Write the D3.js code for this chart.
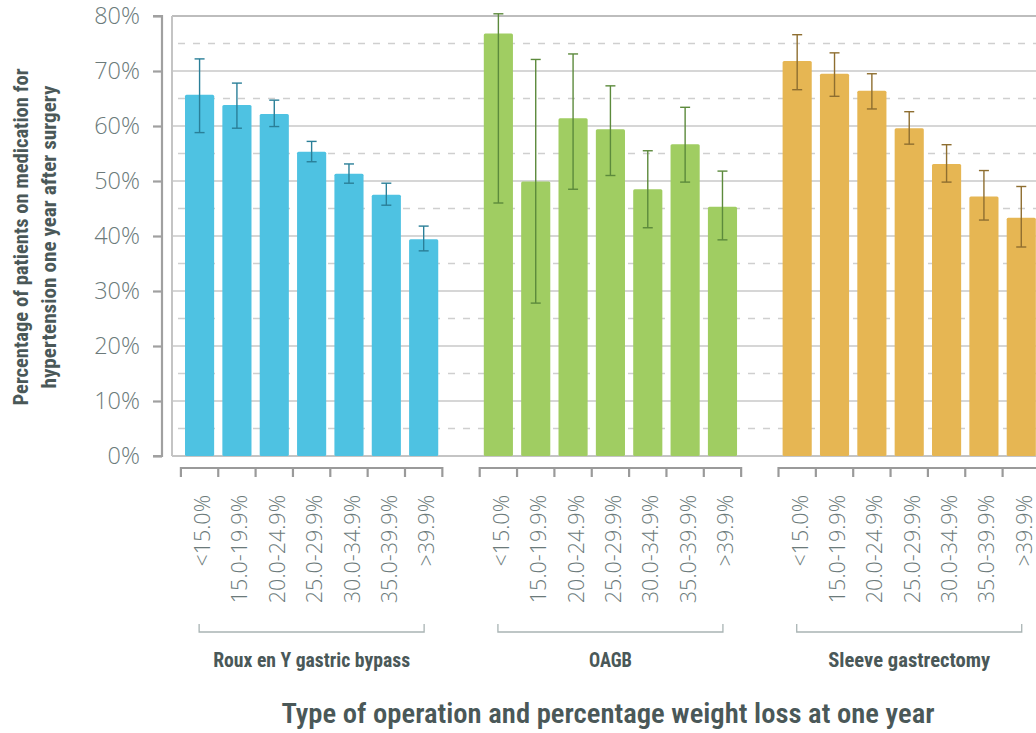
<!DOCTYPE html>
<html><head><meta charset="utf-8">
<script src="https://cdn.jsdelivr.net/npm/d3@7"></script>
<style>
html,body{margin:0;padding:0;background:#fff;}
svg{display:block;}
</style></head>
<body><svg id="chart" width="1036" height="733"></svg>
<script>
const groups = ["Roux en Y gastric bypass", "OAGB", "Sleeve gastrectomy"];
const categories = ["<15.0%", "15.0-19.9%", "20.0-24.9%", "25.0-29.9%", "30.0-34.9%", "35.0-39.9%", ">39.9%"];
const rouxValues = [65.7, 63.8, 62.2, 55.3, 51.3, 47.5, 39.4];
const rouxLow    = [58.8, 59.6, 59.9, 53.5, 49.6, 45.6, 37.3];
const rouxHigh   = [72.2, 67.8, 64.7, 57.2, 53.1, 49.6, 41.8];
const oagbValues = [76.8, 49.9, 61.4, 59.4, 48.5, 56.7, 45.3];
const oagbLow    = [46.0, 27.8, 48.5, 51.0, 41.5, 49.8, 39.3];
const oagbHigh   = [80.4, 72.1, 73.1, 67.3, 55.5, 63.4, 51.8];
const sleeveValues = [71.8, 69.5, 66.4, 59.6, 53.1, 47.2, 43.3];
const sleeveLow    = [66.6, 65.4, 63.1, 56.7, 49.8, 42.9, 38.0];
const sleeveHigh   = [76.6, 73.3, 69.5, 62.6, 56.6, 51.9, 49.0];
const yTicks = [0, 10, 20, 30, 40, 50, 60, 70, 80];
const yTitleLines = ["Percentage of patients on medication for", "hypertension one year after surgery"];
const xTitle = "Type of operation and percentage weight loss at one year";
const barColors = ["#4ec2e2", "#a0cd62", "#e6b653"];
const errColors = ["#2a7f98", "#5c8a3c", "#8e6e30"];

const series = [
  {values: rouxValues, low: rouxLow, high: rouxHigh},
  {values: oagbValues, low: oagbLow, high: oagbHigh},
  {values: sleeveValues, low: sleeveLow, high: sleeveHigh}
];

// slot keys: 7 categories per group with a spacer slot between groups
const slots = [];
groups.forEach((g, gi) => {
  categories.forEach(c => slots.push(gi + "|" + c));
  if (gi < groups.length - 1) slots.push("gap" + gi);
});

const svg = d3.select("#chart");
const step = 37.35;
const x0 = 180.9;
const x = d3.scaleBand().domain(slots).range([x0, x0 + step * slots.length])
  .paddingInner(0.22).paddingOuter(0.11);
const y = d3.scaleLinear().domain([0, 80]).range([456, 16]);

const plotLeft = 172, plotRight = 1040;
const condensed = "'Roboto Condensed', 'Liberation Sans Narrow', 'DejaVu Sans Condensed', 'Open Sans', sans-serif";

// gridlines (dashed at 5s, solid at 10s)
const minor = d3.range(5, 80, 10);
svg.append("g").selectAll("line").data(minor).join("line")
  .attr("x1", plotLeft + 6).attr("x2", plotRight)
  .attr("y1", d => y(d)).attr("y2", d => y(d))
  .attr("stroke", "#cfcfcf").attr("stroke-width", 1.3).attr("stroke-dasharray", "7,8");
svg.append("g").selectAll("line").data(yTicks.filter(d => d > 0 && d < 80)).join("line")
  .attr("x1", plotLeft).attr("x2", plotRight)
  .attr("y1", d => y(d)).attr("y2", d => y(d))
  .attr("stroke", "#c8c8c8").attr("stroke-width", 1.3);
// frame
svg.append("line").attr("x1", plotLeft).attr("x2", plotRight).attr("y1", y(80)).attr("y2", y(80))
  .attr("stroke", "#bdbdbd").attr("stroke-width", 2.2);
svg.append("line").attr("x1", plotLeft).attr("x2", plotRight).attr("y1", y(0)).attr("y2", y(0))
  .attr("stroke", "#c4c4c4").attr("stroke-width", 2);
svg.append("line").attr("x1", plotLeft).attr("x2", plotLeft).attr("y1", y(80)).attr("y2", y(0))
  .attr("stroke", "#c4c4c4").attr("stroke-width", 2);

// bars and error bars
series.forEach((s, gi) => {
  const data = categories.map((c, i) => ({key: gi + "|" + c, v: s.values[i], lo: s.low[i], hi: s.high[i]}));
  const g = svg.append("g");
  g.selectAll("rect").data(data).join("rect")
    .attr("x", d => x(d.key)).attr("width", x.bandwidth())
    .attr("y", d => y(d.v)).attr("height", d => y(0) - y(d.v))
    .attr("fill", barColors[gi]).attr("rx", 1.5);
  const e = g.selectAll("g.err").data(data).join("g").attr("class", "err")
    .attr("stroke", errColors[gi]).attr("stroke-width", 1.4);
  const cx = d => x(d.key) + x.bandwidth() / 2;
  e.append("line").attr("x1", cx).attr("x2", cx).attr("y1", d => y(d.hi)).attr("y2", d => y(d.lo));
  e.append("line").attr("x1", d => cx(d) - 5).attr("x2", d => cx(d) + 5).attr("y1", d => y(d.hi)).attr("y2", d => y(d.hi));
  e.append("line").attr("x1", d => cx(d) - 5).attr("x2", d => cx(d) + 5).attr("y1", d => y(d.lo)).attr("y2", d => y(d.lo));
});

// y axis
const yAxis = d3.axisLeft(y).tickValues(yTicks).tickFormat(d => d + "%").tickSize(9).tickPadding(13);
const ya = svg.append("g").attr("transform", "translate(162,0)").call(yAxis);
ya.select(".domain").attr("stroke", "#a0a0a0").attr("stroke-width", 2.2).attr("d", "M-9,16H0V456H-9");
ya.selectAll(".tick line").attr("stroke", "#a0a0a0").attr("stroke-width", 2.2);
ya.selectAll(".tick text").attr("fill", "#6b7a7a").style("font-family", "'Open Sans', sans-serif")
  .style("font-weight", 300).style("font-size", "23.5px");

// x axis per group with ticks at slot boundaries
const groupLabelLen = [197, 43, 162];
groups.forEach((gname, gi) => {
  const keys = categories.map(c => gi + "|" + c);
  const start = x(keys[0]) - x.step() * x.paddingInner() / 2;
  const bounds = d3.range(categories.length + 1).map(i => start + i * x.step());
  const ga = svg.append("g");
  ga.append("line").attr("x1", bounds[0]).attr("x2", bounds[bounds.length - 1]).attr("y1", 468).attr("y2", 468)
    .attr("stroke", "#9a9a9a").attr("stroke-width", 2.2);
  ga.selectAll("line.t").data(bounds).join("line").attr("class", "t")
    .attr("x1", d => d).attr("x2", d => d).attr("y1", 467).attr("y2", 477)
    .attr("stroke", "#9a9a9a").attr("stroke-width", 2.2);
  ga.selectAll("text").data(keys).join("text")
    .attr("transform", d => `translate(${x(d) + x.bandwidth() / 2 + 3},495) rotate(-90)`)
    .attr("text-anchor", "end").attr("dy", "0.35em")
    .attr("fill", "#6b7a7a").style("font-family", "'Open Sans', sans-serif").style("font-weight", 300)
    .style("font-size", "21.5px")
    .text(d => d.split("|")[1]);
  // bracket
  const mid = (bounds[0] + bounds[bounds.length - 1]) / 2;
  const half = 112.5;
  svg.append("path").attr("d", `M${mid - half},624V632H${mid + half}V624`)
    .attr("fill", "none").attr("stroke", "#a9b4b4").attr("stroke-width", 1.3);
  svg.append("text").attr("x", mid).attr("y", 667).attr("text-anchor", "middle")
    .attr("textLength", groupLabelLen[gi]).attr("lengthAdjust", "spacingAndGlyphs")
    .attr("fill", "#4a5858").style("font-family", condensed)
    .style("font-weight", 700).style("font-size", "21px").text(gname);
});

// y title
const yt = svg.append("text").attr("transform", "translate(0,237) rotate(-90)")
  .attr("text-anchor", "middle").attr("fill", "#4a5858")
  .style("font-family", condensed)
  .style("font-weight", 700).style("font-size", "20.5px");
const yTitleLen = [337, 303];
yt.selectAll("tspan").data(yTitleLines).join("tspan")
  .attr("x", 0).attr("y", (d, i) => 28 + i * 28)
  .attr("textLength", (d, i) => yTitleLen[i]).attr("lengthAdjust", "spacingAndGlyphs")
  .text(d => d);

// x title
svg.append("text").attr("x", 608).attr("y", 723).attr("text-anchor", "middle")
  .attr("textLength", 653).attr("lengthAdjust", "spacingAndGlyphs")
  .attr("fill", "#4a5858").style("font-family", condensed).style("font-weight", 600)
  .style("font-size", "27px").text(xTitle);
</script></body></html>
